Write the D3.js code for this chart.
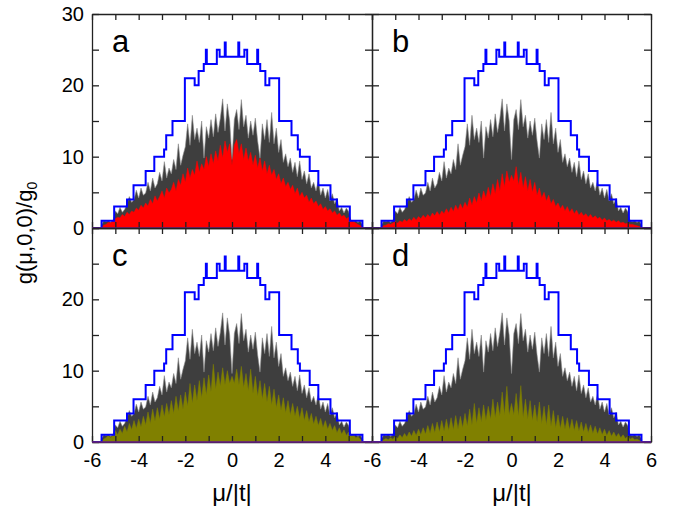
<!DOCTYPE html>
<html>
<head>
<meta charset="utf-8">
<script src="https://cdn.jsdelivr.net/npm/d3@7"></script>
<style>
  body { margin: 0; background: #fff; }
  svg { font-family: "Liberation Sans", Arial, sans-serif; }
</style>
</head>
<body>
<script>
// mu/|t| grid, -5.6 .. 5.6 step 0.1
const muGrid = d3.range(-56, 57).map(i => i / 10);

// total density (gray), shared by all panels
const grayVals = [0.4, 1.0, 0.9, 1.0, 0.8, 1.0,
  2.4, 2.0, 2.9, 2.2, 2.6,   3.4, 4.4, 3.6, 4.0, 5.3,
  4.2, 5.6, 4.6, 4.9, 6.4,   5.2, 7.0, 5.6, 6.2, 7.8,
  6.6, 9.3, 7.0, 8.4, 7.6,   9.6, 8.2, 11.8, 8.8, 10.2,
  11.4, 14.6, 11.6, 15.8, 12.4,   14.0, 12.0, 15.0, 9.8, 14.2,
  12.6, 15.2, 12.8, 16.0, 13.4,   15.4, 18.1, 13.6, 17.4, 15.0,
  9.6,
  15.2, 16.6, 13.8, 18.0, 14.2,   15.8, 12.6, 15.0, 13.0, 15.4,
  12.2, 9.8, 14.6, 12.4, 15.2,   12.0, 16.2, 11.8, 14.0, 10.6,
  12.4, 9.2, 10.4, 8.6, 9.8,   7.8, 9.2, 7.2, 9.4, 6.8,
  8.0, 6.2, 7.6, 5.6, 6.4,   5.2, 6.8, 4.6, 5.6, 4.2,
  5.4, 3.8, 4.8, 3.4, 4.2,   2.4, 2.9, 2.1, 2.8, 2.3,
  1.0, 0.9, 1.0, 0.8, 1.0, 0.4];

const redA = [0.1, 0.4, 0.5, 0.8, 0.7, 1.1,
  1.3, 1.5, 1.4, 1.9, 1.6,   2.2, 1.9, 2.4, 2.2, 2.8,
  2.5, 3.2, 2.8, 3.5, 3.1,   4.0, 3.4, 4.5, 3.8, 4.4,
  5.2, 4.2, 5.6, 4.9, 5.4,   6.4, 5.2, 6.8, 6.0, 7.6,
  6.4, 8.4, 7.0, 8.2, 7.4,   9.4, 7.8, 9.0, 8.2, 10.0,
  8.6, 10.4, 9.0, 10.8, 9.4,   11.6, 9.8, 12.2, 10.6, 11.8,
  8.8,
  11.6, 12.4, 10.4, 11.8, 9.6,   11.2, 9.4, 10.6, 8.8, 10.2,
  8.4, 9.8, 8.0, 9.4, 7.6,   8.8, 7.4, 8.2, 6.8, 7.6,
  6.2, 7.0, 5.8, 6.4, 5.4,   6.0, 4.8, 5.6, 4.4, 5.0,
  4.2, 4.6, 3.6, 4.2, 3.4,   3.8, 3.0, 3.4, 2.6, 3.0,
  2.4, 2.7, 2.1, 2.4, 1.8,   2.1, 1.6, 1.8, 1.3, 1.5,
  1.1, 0.9, 0.7, 0.5, 0.3, 0.1];

const redB = [0.1, 0.3, 0.4, 0.6, 0.5, 0.7,
  0.9, 0.7, 1.0, 0.8, 1.2,   0.9, 1.3, 1.0, 1.5, 1.1,
  1.6, 1.3, 1.8, 1.4, 1.9,   1.5, 2.1, 1.7, 2.3, 1.8,
  2.4, 2.0, 2.7, 2.1, 2.9,   2.3, 3.2, 2.5, 3.4, 2.7,
  3.6, 2.9, 4.2, 3.2, 4.4,   3.5, 4.9, 3.8, 5.2, 4.2,
  5.7, 4.4, 6.2, 4.8, 6.8,   5.2, 7.6, 5.8, 8.0, 6.4,
  7.4,
  6.6, 8.6, 6.0, 7.8, 5.6,   7.2, 5.2, 6.8, 5.0, 6.4,
  4.6, 5.6, 4.2, 5.0, 3.8,   4.6, 3.4, 4.0, 3.0, 3.5,
  2.7, 3.2, 2.4, 3.0, 2.2,   2.7, 2.0, 2.5, 1.8, 2.2,
  1.7, 2.0, 1.5, 1.9, 1.4,   1.7, 1.3, 1.5, 1.1, 1.4,
  1.0, 1.2, 0.9, 1.1, 0.8,   1.0, 0.7, 0.8, 0.6, 0.7,
  0.5, 0.5, 0.4, 0.3, 0.2, 0.1];

const oliveC = [0.1, 0.4, 0.6, 0.9, 0.6, 1.0,
  1.6, 1.0, 1.8, 1.2, 2.2,   1.4, 2.6, 1.7, 3.0, 1.9,
  3.2, 2.1, 3.6, 2.4, 4.2,   2.6, 4.6, 2.9, 4.8, 3.2,
  5.2, 3.5, 5.4, 3.8, 5.8,   4.0, 6.4, 4.3, 6.6, 4.6,
  7.0, 5.0, 8.2, 5.4, 8.0,   5.8, 8.6, 6.2, 9.0, 6.6,
  9.4, 7.0, 10.9, 7.4, 9.8,   7.8, 10.4, 8.0, 10.0, 8.2,
  9.2,
  8.2, 10.2, 8.0, 10.6, 7.6,   9.6, 7.2, 10.2, 6.8, 9.2,
  6.4, 8.6, 6.0, 8.2, 5.6,   7.8, 5.2, 7.4, 4.8, 6.6,
  4.4, 6.2, 4.1, 5.8, 3.8,   5.4, 3.6, 5.0, 3.3, 4.8,
  3.0, 4.4, 2.8, 4.0, 2.5,   3.6, 2.3, 3.3, 2.0, 3.0,
  1.8, 2.6, 1.6, 2.3, 1.3,   2.0, 1.1, 1.7, 0.9, 1.4,
  0.8, 1.0, 0.6, 0.7, 0.4, 0.1];

const oliveD = [0.1, 0.3, 0.5, 0.3, 0.6, 0.4,
  0.8, 0.5, 1.0, 0.6, 1.2,   0.7, 1.4, 0.8, 1.6, 0.9,
  1.8, 1.0, 2.0, 1.1, 2.3,   1.2, 2.6, 1.3, 2.8, 1.4,
  3.0, 1.5, 3.2, 1.6, 3.4,   1.7, 3.7, 1.8, 3.6, 2.0,
  4.0, 2.2, 4.6, 2.4, 5.4,   2.6, 4.8, 2.8, 5.2, 3.0,
  5.0, 3.2, 6.0, 3.4, 5.6,   3.6, 7.0, 3.8, 7.8, 3.8,
  5.4,
  3.8, 6.8, 3.6, 7.9, 3.4,   6.0, 3.2, 5.8, 3.0, 5.2,
  2.8, 5.6, 2.6, 5.0, 2.4,   5.2, 2.2, 4.4, 2.0, 3.8,
  1.9, 3.6, 1.8, 3.4, 1.7,   3.2, 1.6, 3.0, 1.5, 2.8,
  1.4, 2.6, 1.3, 2.4, 1.2,   2.2, 1.1, 2.0, 1.0, 1.8,
  0.9, 1.6, 0.8, 1.4, 0.7,   1.2, 0.6, 1.0, 0.5, 0.8,
  0.4, 0.6, 0.3, 0.4, 0.2, 0.1];

// blue staircase (step after each x)
const stairX = [-6, -5.59, -5.05, -4.5, -4.22, -3.7, -3.33, -2.91, -2.82, -2.55,
  -2.02, -1.6, -1.43, -1.21, -1.12, -1.08, -0.65, -0.53, -0.31, -0.27,
  0.27, 0.31, 0.53, 0.65, 1.08, 1.12, 1.21, 1.43, 1.6, 2.02,
  2.55, 2.82, 2.91, 3.33, 3.7, 4.22, 4.5, 5.05, 5.59, 6];
const stairY = [0, 1, 3, 4, 6, 8, 10, 11, 13, 15,
  21, 20, 22, 23, 25, 23, 25, 24, 26, 24,
  26, 24, 25, 23, 25, 23, 22, 20, 21, 15,
  13, 11, 10, 8, 6, 4, 3, 1, 0, 0];

const yTicks = [0, 5, 10, 15, 20, 25, 30];
const xTicks = d3.range(-6, 7);

const panels = [
  {letter: "a", vals: redA, color: "#ff0000", col: 0, row: 0},
  {letter: "b", vals: redB, color: "#ff0000", col: 1, row: 0},
  {letter: "c", vals: oliveC, color: "#808000", col: 0, row: 1},
  {letter: "d", vals: oliveD, color: "#808000", col: 1, row: 1}
];

const w = 676;
const h = 517;
const colX = [[92, 372], [372, 651]];
const rowY = [[228, 14], [442, 228]];

const svg = d3.select("body")
  .append("svg")
  .attr("width", w)
  .attr("height", h);

panels.forEach(function(p) {
  const x = d3.scaleLinear().domain([-6, 6]).range(colX[p.col]);
  const y = d3.scaleLinear().domain([0, 30]).range(rowY[p.row]);
  const g = svg.append("g");

  const area = d3.area()
    .x((d, i) => x(muGrid[i]))
    .y0(y(0))
    .y1(d => y(d));

  g.append("path")
    .datum(grayVals)
    .attr("d", area)
    .attr("fill", "#3e3e3e")
    .attr("stroke", "#8c8c8c")
    .attr("stroke-width", 0.6);

  g.append("path")
    .datum(p.vals)
    .attr("d", area)
    .attr("fill", p.color)
    .attr("stroke", p.color)
    .attr("stroke-width", 0.5);

  const stairs = stairX.map((v, i) => [v, stairY[i]]);
  g.append("path")
    .datum(stairs)
    .attr("d", d3.line().x(d => x(d[0])).y(d => y(d[1])).curve(d3.curveStepAfter))
    .attr("fill", "none")
    .attr("stroke", "#0000ff")
    .attr("stroke-width", 2);

  // axes, ticks pointing inward
  const left = d3.axisLeft(y).tickValues(yTicks).tickSizeInner(-7).tickSizeOuter(0).tickPadding(8)
    .tickFormat(d => (p.col === 0 && d % 10 === 0 && !(p.row === 1 && d === 30)) ? d : "");
  const right = d3.axisRight(y).tickValues(yTicks).tickSizeInner(-7).tickSizeOuter(0).tickFormat("");
  const top = d3.axisTop(x).tickValues(xTicks).tickSizeInner(-6).tickSizeOuter(0).tickFormat("");
  const bottom = d3.axisBottom(x).tickValues(xTicks).tickSizeInner(-6).tickSizeOuter(0).tickPadding(11)
    .tickFormat(d => (p.row === 1 && d % 2 === 0 && !(p.col === 0 && d === 6)) ? d : "");

  g.append("g").attr("transform", "translate(" + colX[p.col][0] + ",0)").call(left);
  g.append("g").attr("transform", "translate(" + colX[p.col][1] + ",0)").call(right);
  g.append("g").attr("transform", "translate(0," + rowY[p.row][1] + ")").call(top);
  g.append("g").attr("transform", "translate(0," + rowY[p.row][0] + ")").call(bottom);

  g.selectAll(".domain, .tick line")
    .attr("stroke", "#222")
    .attr("stroke-width", 1.3);
  g.selectAll(".tick text")
    .attr("fill", "#000")
    .attr("font-size", 20)
    .attr("font-family", "Liberation Sans, Arial, sans-serif");

  // purple line along y = 0
  g.append("line")
    .attr("x1", colX[p.col][0]).attr("x2", colX[p.col][1])
    .attr("y1", y(0)).attr("y2", y(0))
    .attr("stroke", "#6a1f8a")
    .attr("stroke-width", 1.3);

  g.append("text")
    .text(p.letter)
    .attr("x", colX[p.col][0] + 20)
    .attr("y", rowY[p.row][1] + 38)
    .attr("font-size", 31);
});

svg.append("text")
  .text("\u03bc/|t|")
  .attr("x", 232).attr("y", 501)
  .attr("text-anchor", "middle")
  .attr("font-size", 24);
svg.append("text")
  .text("\u03bc/|t|")
  .attr("x", 512).attr("y", 501)
  .attr("text-anchor", "middle")
  .attr("font-size", 24);

const yTitle = svg.append("text")
  .attr("transform", "translate(32,233) rotate(-90)")
  .attr("text-anchor", "middle")
  .attr("font-size", 22);
yTitle.append("tspan").text("g(\u03bc,0,0)/g");
yTitle.append("tspan").text("0").attr("font-size", 14).attr("dy", 5);
</script>
</body>
</html>
